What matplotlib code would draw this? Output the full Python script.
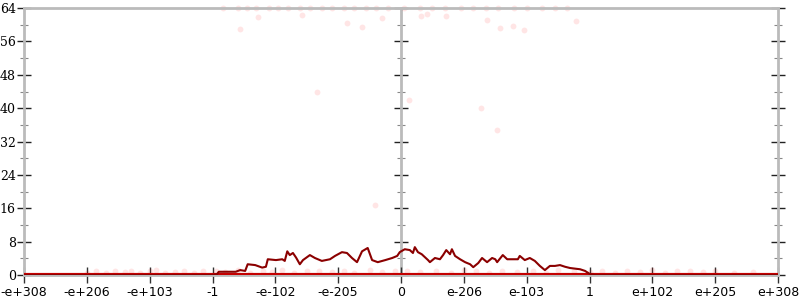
import numpy as np
import matplotlib.pyplot as plt

# tick positions on the (ordered-float) x scale and their labels
tick_pos = [-6, -5, -4, -3, -2, -1, 0, 1, 2, 3, 4, 5, 6]
tick_labels = ["-e+308", "-e+206", "-e+103", "-1", "-e-102", "-e-205", "0",
               "e-206", "e-103", "1", "e+102", "e+205", "e+308"]
y_ticks = [0, 8, 16, 24, 32, 40, 48, 56, 64]
y_minor = [4, 12, 20, 28, 36, 44, 52, 60]

# density line (x in tick units)
line_x = [-6.0, -3.01, -2.93, -2.90, -2.63, -2.56, -2.48, -2.44, -2.32, -2.21,
          -2.15, -2.12, -1.99, -1.89, -1.85, -1.81, -1.77, -1.72, -1.67, -1.61,
          -1.56, -1.45, -1.37, -1.26, -1.13, -1.05, -0.94, -0.86, -0.78, -0.70,
          -0.62, -0.53, -0.46, -0.37, -0.25, -0.14, -0.06, -0.02, 0.06, 0.14,
          0.19, 0.22, 0.27, 0.33, 0.43, 0.46, 0.54, 0.62, 0.67, 0.72,
          0.78, 0.81, 0.86, 0.94, 1.02, 1.10, 1.15, 1.23, 1.29, 1.37,
          1.45, 1.50, 1.53, 1.62, 1.69, 1.77, 1.86, 1.89, 1.97, 2.05,
          2.13, 2.21, 2.29, 2.37, 2.45, 2.53, 2.61, 2.69, 2.85, 2.93,
          3.01, 3.09, 6.0]
line_y = [0, 0, 0.2, 0.8, 0.8, 1.2, 1.0, 2.6, 2.4, 1.8,
          2.0, 3.8, 3.6, 3.8, 3.4, 5.7, 4.8, 5.3, 4.2, 2.6,
          3.6, 4.8, 4.1, 3.4, 3.8, 4.6, 5.5, 5.3, 4.1, 3.1,
          5.7, 6.5, 3.6, 3.1, 3.6, 4.1, 4.6, 5.5, 6.2, 6.0,
          5.3, 6.7, 5.5, 5.0, 3.6, 3.1, 4.1, 3.8, 4.8, 6.0,
          5.0, 6.2, 4.6, 3.8, 3.1, 2.6, 1.9, 2.9, 4.1, 3.1,
          4.1, 3.8, 3.1, 4.8, 3.8, 3.8, 3.8, 4.6, 3.6, 4.1,
          3.4, 2.2, 1.2, 2.2, 2.2, 2.4, 2.0, 1.7, 1.4, 1.0,
          0.2, 0, 0]

# faint sample points
pts_x = [-5.0, -4.85, -4.7, -4.55, -4.4, -4.3, -4.15, -4.0, -3.9, -3.75,
         -3.6, -3.45, -3.3, -3.15, -2.95, -2.8, -2.6, -2.4, -2.2, -2.05,
         -1.9, -1.7, -1.5, -1.3, -1.1, -0.9, -0.75, -0.5, -0.3, -0.1,
         0.1, 0.3, 0.55, 0.8, 1.0, 1.2, 1.4, 1.6, 1.85, 2.1, 2.3, 2.5,
         2.75, 3.0, 3.2, 3.4, 3.6, 3.8, 4.0, 4.2, 4.4, 4.6, 4.8, 5.0, 5.3, 5.6,
         -2.83, -2.6, -2.45, -2.3, -2.1, -1.95, -1.8, -1.6, -1.45, -1.25,
         -1.1, -0.9, -0.75, -0.55, -0.4, -0.2, 0.05, 0.3, 0.5, 0.7,
         0.95, 1.15, 1.35, 1.55, 1.8, 2.0, 2.25, 2.45, 2.64,
         -2.57, -2.27, -1.58, -0.86, -0.62, -0.31, 0.32, 0.42, 0.72,
         1.37, 1.57, 1.78, 1.96, 2.78, -1.34, 0.13, 1.27, -0.41, 1.52]
pts_y = [0.6, 0.9, 0.4, 1.1, 0.7, 1.0, 0.5, 0.9, 1.2, 0.6,
         0.8, 1.1, 0.5, 0.9, 1.0, 0.7, 1.3, 0.6, 1.0, 0.8,
         1.2, 0.5, 0.9, 1.1, 0.7, 1.0, 0.6, 1.2, 0.8, 0.9,
         1.1, 0.7, 1.0, 0.6, 1.2, 0.9, 0.5, 1.1, 0.8, 1.0, 0.6, 1.2,
         0.9, 0.7, 1.1, 0.5, 1.0, 0.8, 1.2, 0.6, 0.9, 1.1, 0.7, 1.0, 0.6, 0.8,
         64, 64, 64, 64, 64, 64, 64, 64, 64, 64,
         64, 64, 64, 64, 64, 64, 64, 64, 64, 64,
         64, 64, 64, 64, 64, 64, 64, 64, 64,
         59, 61.8, 62.4, 60.4, 59.5, 61.6, 62.2, 62.5, 62.0,
         61.2, 59.2, 59.8, 58.8, 60.8, 44, 42, 40, 16.8, 34.8]

fig = plt.figure(figsize=(8, 3), dpi=100)
ax = fig.add_axes([0.03, 0.083, 0.9425, 0.89])

ax.scatter(pts_x, pts_y, s=18, color="#ff0000", alpha=0.1, linewidths=0,
           zorder=2, clip_on=False)
ax.axhline(0, color="#c40000", lw=3, zorder=3)
ax.plot(line_x, line_y, color="#8b0000", lw=1.5, zorder=4)

ax.set_xlim(-6, 6)
ax.set_ylim(0, 64)

gray = "#bbbbbb"
for side in ["left", "right", "top", "bottom"]:
    ax.spines[side].set_color(gray)
    ax.spines[side].set_linewidth(2)

ax.set_xticks(tick_pos)
ax.set_xticklabels(tick_labels, fontsize=9, family="DejaVu Sans")
ax.set_yticks(y_ticks)
ax.set_yticks(y_minor, minor=True)
ax.set_yticklabels([str(v) for v in y_ticks], fontsize=9, family="DejaVu Serif")
ax.tick_params(axis="x", direction="inout", length=12, width=1, color="#333333", pad=2)
ax.tick_params(axis="y", which="major", direction="inout", length=10, width=1,
               color="#222222", right=True, pad=1)
ax.tick_params(axis="y", which="minor", direction="inout", length=6, width=0.8,
               color="#888888", right=True)

# vertical axis through zero
mid = ax.secondary_yaxis(0.5)
for sp in mid.spines.values():
    sp.set_color(gray)
    sp.set_linewidth(2)
mid.set_yticks(y_ticks)
mid.set_yticks(y_minor, minor=True)
mid.set_yticklabels([])
mid.tick_params(axis="y", which="major", direction="inout", length=10, width=1,
                color="#222222", labelleft=False, labelright=False)
mid.tick_params(axis="y", which="minor", direction="inout", length=6, width=0.8,
                color="#888888", labelleft=False, labelright=False)

fig.savefig("out.png", dpi=100)
